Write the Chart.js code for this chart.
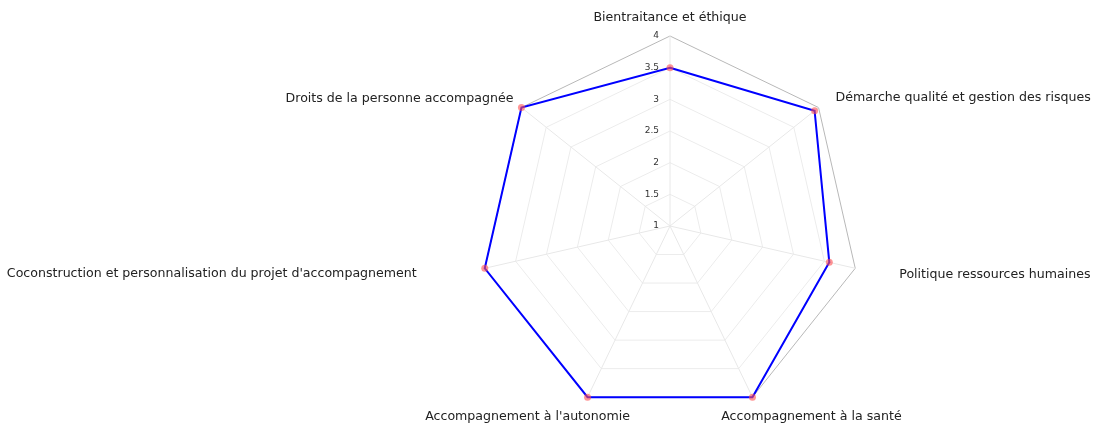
<!DOCTYPE html>
<html>
<head>
<meta charset="utf-8">
<script src="https://cdn.jsdelivr.net/npm/chart.js@4"></script>
<style>
  html, body { margin: 0; padding: 0; background: #fff; }
  #wrap { width: 1094px; height: 425px; }
</style>
</head>
<body>
<div id="wrap"><canvas id="radar"></canvas></div>
<script>
// data
const axes = [
  'Bientraitance et éthique',
  'Démarche qualité et gestion des risques',
  'Politique ressources humaines',
  'Accompagnement à la santé',
  "Accompagnement à l'autonomie",
  "Coconstruction et personnalisation du projet d'accompagnement",
  'Droits de la personne accompagnée'
];
const scores = [3.5, 3.92, 3.58, 4, 4, 4, 4];
const tickValues = [1, 1.5, 2, 2.5, 3, 3.5, 4];

// where each axis name sits relative to its outer vertex
const labelLayout = [
  { align: 'center', dx: 0, dy: -18 },
  { align: 'left', dx: 17, dy: -10 },
  { align: 'left', dx: 44, dy: 6 },
  { align: 'center', dx: 59, dy: 20 },
  { align: 'center', dx: -60, dy: 20 },
  { align: 'right', dx: -68, dy: 5 },
  { align: 'right', dx: -8, dy: -9 }
];

const radarText = {
  id: 'radarText',
  afterDraw(chart) {
    const scale = chart.scales.r;
    const ctx = chart.ctx;
    ctx.save();
    ctx.textBaseline = 'middle';

    // tick labels, right aligned just left of the top spoke
    ctx.font = '9px "DejaVu Sans"';
    ctx.fillStyle = '#333';
    ctx.textAlign = 'right';
    tickValues.forEach(v => {
      const d = scale.getDistanceFromCenterForValue(v);
      ctx.fillText(String(v), scale.xCenter - 11, scale.yCenter - d);
    });

    // axis names
    ctx.font = '12.6px "DejaVu Sans"';
    ctx.fillStyle = '#222';
    axes.forEach((name, i) => {
      const p = scale.getPointPosition(i, scale.drawingArea);
      const l = labelLayout[i];
      ctx.textAlign = l.align;
      ctx.fillText(name, p.x + l.dx, p.y + l.dy);
    });
    ctx.restore();
  }
};

new Chart(document.getElementById('radar'), {
  type: 'radar',
  data: {
    labels: axes,
    datasets: [{
      data: scores,
      borderColor: '#0000ff',
      borderWidth: 2,
      fill: false,
      tension: 0,
      pointRadius: 3.5,
      pointBorderWidth: 0,
      pointBackgroundColor: 'rgba(255, 80, 80, 0.6)'
    }]
  },
  options: {
    responsive: true,
    maintainAspectRatio: false,
    animation: false,
    layout: { padding: { left: 480, right: 234, top: 36, bottom: 9 } },
    plugins: {
      legend: { display: false },
      tooltip: { enabled: false }
    },
    scales: {
      r: {
        min: 1,
        max: 4,
        ticks: { display: false, stepSize: 0.5 },
        pointLabels: { display: false },
        angleLines: { color: '#e8e8e8', lineWidth: 1 },
        grid: {
          circular: false,
          lineWidth: 1,
          color: ctx => (ctx.tick && ctx.tick.value === 4) ? '#b8b8b8' : '#ececec'
        }
      }
    }
  },
  plugins: [radarText]
});
</script>
</body>
</html>
